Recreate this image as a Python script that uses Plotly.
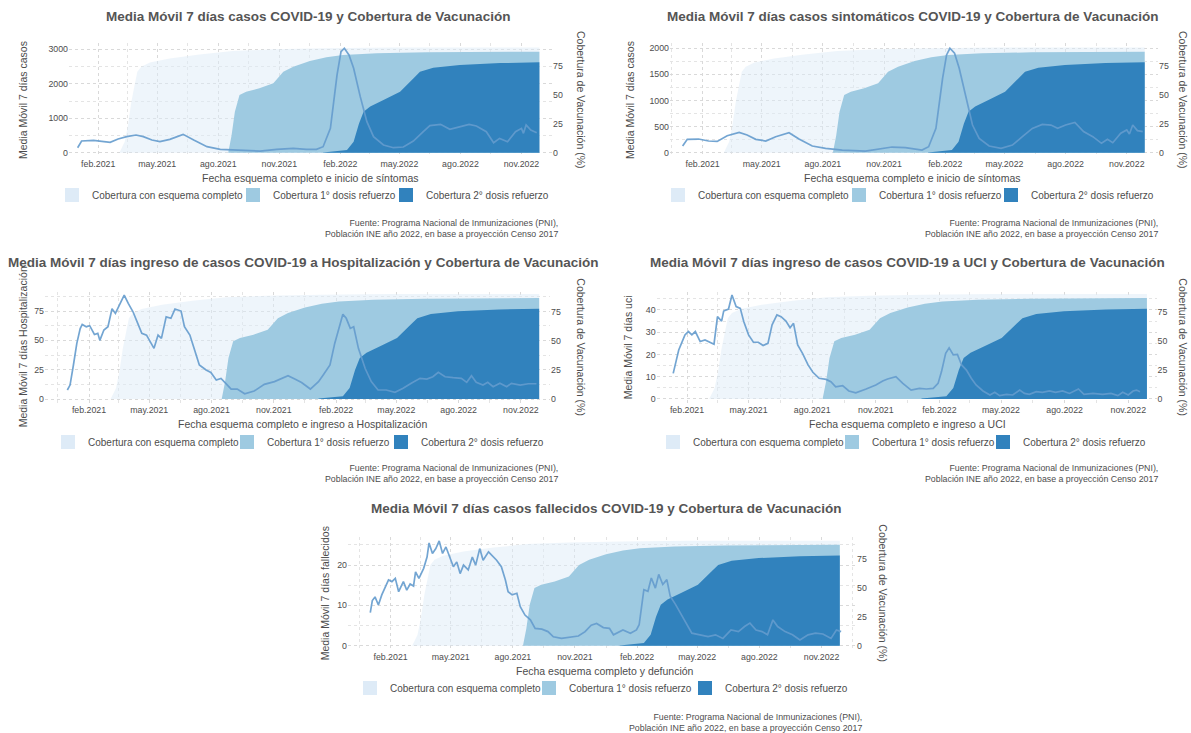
import plotly.graph_objects as go

# ---------------- DATA ----------------
casos_fecha = ["2021-01-01","2021-01-07","2021-01-25","2021-02-19","2021-03-03","2021-03-16","2021-03-30",
    "2021-04-10","2021-04-23","2021-05-05","2021-05-20","2021-06-09","2021-06-25","2021-07-15","2021-08-04",
    "2021-08-29","2021-10-03","2021-10-28","2021-11-22","2021-12-12","2021-12-27","2022-01-06","2022-01-17",
    "2022-01-27","2022-02-02","2022-02-07","2022-02-14","2022-02-21","2022-03-03","2022-03-13","2022-03-23",
    "2022-04-07","2022-04-22","2022-05-07","2022-05-22","2022-06-06","2022-06-16","2022-07-02","2022-07-16",
    "2022-08-01","2022-08-14","2022-08-25","2022-09-09","2022-09-20","2022-09-29","2022-10-11","2022-10-23",
    "2022-11-01","2022-11-04","2022-11-08","2022-11-15","2022-11-24"]
casos_mm7 = [145,339,358,300,397,465,513,465,368,319,387,532,368,174,97,
    68,48,97,126,97,97,174,707,2255,2933,3030,2836,2449,1626,900,465,
    223,145,165,339,610,784,823,677,755,823,774,610,290,416,319,610,706,561,803,658,581]

sinto_fecha = ["2021-01-02","2021-01-09","2021-01-26","2021-02-10","2021-02-23","2021-03-10","2021-03-28",
    "2021-04-09","2021-04-22","2021-05-07","2021-05-22","2021-06-11","2021-06-26","2021-07-16","2021-08-05",
    "2021-08-30","2021-10-04","2021-10-24","2021-11-13","2021-12-03","2021-12-28","2022-01-07","2022-01-18",
    "2022-01-28","2022-02-03","2022-02-08","2022-02-15","2022-02-22","2022-03-04","2022-03-14","2022-03-24",
    "2022-04-08","2022-04-26","2022-05-13","2022-05-28","2022-06-12","2022-06-27","2022-07-10","2022-07-20",
    "2022-08-01","2022-08-15","2022-08-28","2022-09-11","2022-09-24","2022-10-03","2022-10-11","2022-10-23",
    "2022-11-01","2022-11-05","2022-11-10","2022-11-17","2022-11-25"]
sinto_mm7 = [128,256,262,224,217,326,390,339,256,224,307,383,262,128,83,
    51,32,64,109,96,51,115,466,1425,1872,2000,1904,1617,1042,530,275,
    128,83,147,307,466,543,530,466,530,581,404,308,180,256,192,372,436,359,532,423,404]

hosp_fecha = ["2020-12-31","2021-01-04","2021-01-09","2021-01-14","2021-01-19","2021-01-22","2021-01-28",
    "2021-02-02","2021-02-09","2021-02-14","2021-02-17","2021-02-23","2021-03-01","2021-03-07","2021-03-12",
    "2021-03-18","2021-03-25","2021-03-31","2021-04-07","2021-04-14","2021-04-20","2021-04-27","2021-05-02",
    "2021-05-08","2021-05-14","2021-05-19","2021-05-26","2021-06-02","2021-06-08","2021-06-17","2021-06-22",
    "2021-06-30","2021-07-07","2021-07-14","2021-07-24","2021-07-31","2021-08-08","2021-08-15","2021-08-22",
    "2021-08-30","2021-09-08","2021-09-19","2021-10-03","2021-10-18","2021-11-02","2021-11-22","2021-12-02",
    "2021-12-12","2021-12-25","2022-01-06","2022-01-13","2022-01-23","2022-01-30","2022-02-06","2022-02-11",
    "2022-02-16","2022-02-22","2022-02-27","2022-03-06","2022-03-16","2022-03-25","2022-04-04","2022-04-16",
    "2022-04-29","2022-05-11","2022-05-23","2022-06-05","2022-06-15","2022-06-24","2022-07-02","2022-07-12",
    "2022-07-24","2022-08-05","2022-08-13","2022-08-20","2022-08-27","2022-09-06","2022-09-13","2022-09-21",
    "2022-10-01","2022-10-11","2022-10-18","2022-10-31","2022-11-12","2022-11-24"]
hosp_mm7 = [7.7,11.9,29,47.4,60,63.6,61.6,62.5,55,56,50,58.8,61.6,77,73,
    80,88.6,81.5,74.4,64.5,56,54.5,48.9,43.2,54.5,51.7,70,68.8,76.7,75,61.6,
    54.5,41.8,29,24.7,22.7,16.2,17.6,13.4,8.5,8.5,4.5,6.8,12.5,14.8,19.9,17,
    14,8.5,14.8,20.5,29,47.4,63,72.2,68.8,60.2,61.6,43.2,26,14.8,7.7,7.7,
    5.7,9.1,13.4,17.6,17,19,22.7,19,18.2,17.6,14.2,19.9,14.2,11.9,14.2,10.5,
    13.4,10.5,13.4,11.9,13,13]

uci_fecha = ["2021-01-12","2021-01-15","2021-01-20","2021-01-25","2021-01-29","2021-02-03","2021-02-08",
    "2021-02-13","2021-02-20","2021-02-27","2021-03-06","2021-03-12","2021-03-17","2021-03-23","2021-03-26",
    "2021-04-02","2021-04-07","2021-04-13","2021-04-19","2021-04-24","2021-05-01","2021-05-08","2021-05-15",
    "2021-05-22","2021-05-29","2021-06-04","2021-06-11","2021-06-17","2021-06-24","2021-06-30","2021-07-05",
    "2021-07-11","2021-07-18","2021-07-26","2021-08-02","2021-08-11","2021-08-21","2021-08-28","2021-09-04",
    "2021-09-14","2021-09-23","2021-10-03","2021-10-18","2021-11-01","2021-11-11","2021-11-18","2021-11-30",
    "2021-12-10","2021-12-22","2022-01-03","2022-01-13","2022-01-23","2022-01-30","2022-02-04","2022-02-10",
    "2022-02-15","2022-02-21","2022-02-27","2022-03-05","2022-03-12","2022-03-19","2022-03-26","2022-04-05",
    "2022-04-15","2022-04-22","2022-04-29","2022-05-09","2022-05-18","2022-05-28","2022-06-04","2022-06-11",
    "2022-06-21","2022-06-30","2022-07-10","2022-07-19","2022-07-29","2022-08-08","2022-08-21","2022-08-29",
    "2022-09-11","2022-09-25","2022-10-07","2022-10-17","2022-10-24","2022-11-01","2022-11-08","2022-11-13",
    "2022-11-18"]
uci_mm7 = [11.5,15.3,22,25.8,28.8,30.3,28.8,30.3,25.8,26.5,25.5,24.6,37,35,39.5,
    40.4,46.7,41.5,40.7,34.8,28.8,25.5,25.5,24,25,33.3,37.8,37,35,32,34,
    24.3,20.5,15.3,12,9.3,8.8,7.8,5.5,6,3.6,2.8,4.5,6.3,8.1,9,10,
    7,4,4.8,4.5,4.8,7,12.3,20.5,23,19.8,20,15.3,13,9.3,6.3,3.6,
    1.8,3,1.5,2.1,1.8,4,2.5,2.1,3.3,3,3.6,3,3.6,2.5,4.5,2.1,
    2.5,2.1,2.5,1.5,3,1.8,3.6,4,3.3]

fall_fecha = ["2021-01-02","2021-01-05","2021-01-09","2021-01-14","2021-01-19","2021-01-24","2021-01-29",
    "2021-02-03","2021-02-08","2021-02-13","2021-02-20","2021-02-25","2021-03-02","2021-03-07","2021-03-10",
    "2021-03-15","2021-03-22","2021-03-27","2021-03-30","2021-04-04","2021-04-09","2021-04-14","2021-04-19",
    "2021-04-24","2021-04-30","2021-05-05","2021-05-10","2021-05-15","2021-05-20","2021-05-27","2021-06-02",
    "2021-06-07","2021-06-13","2021-06-18","2021-06-26","2021-07-02","2021-07-08","2021-07-15","2021-07-21",
    "2021-07-25","2021-07-31","2021-08-07","2021-08-12","2021-08-19","2021-08-27","2021-09-03","2021-09-13",
    "2021-09-22","2021-09-30","2021-10-12","2021-10-24","2021-11-06","2021-11-16","2021-11-25","2021-12-03",
    "2021-12-13","2021-12-22","2021-12-28","2022-01-11","2022-01-22","2022-01-31","2022-02-04","2022-02-11",
    "2022-02-17","2022-02-22","2022-02-28","2022-03-05","2022-03-11","2022-03-17","2022-03-22","2022-03-30",
    "2022-04-07","2022-04-15","2022-04-23","2022-05-05","2022-05-17","2022-05-28","2022-06-08","2022-06-20",
    "2022-07-01","2022-07-10","2022-07-18","2022-07-27","2022-08-05","2022-08-13","2022-08-21","2022-08-28",
    "2022-09-08","2022-09-19","2022-09-30","2022-10-12","2022-10-23","2022-11-03","2022-11-15","2022-11-23",
    "2022-11-30"]
fall_mm7 = [8.2,11.2,12.1,10.1,12.6,14.6,16.3,15.9,16.7,13.4,15.9,13.8,15.3,14.8,18.3,
    16.7,19.2,22,25.5,22.9,24.1,26,22.9,24.5,21.7,19.6,20.8,17.9,20,18.8,22,
    20,24.1,21.2,23.3,22.2,21.2,19.6,16.3,13.4,12.6,13,9.7,7.6,6.4,4.3,4.1,
    3.5,2.2,1.8,2.1,2.4,3.5,5.1,5.5,4.5,4.3,2.7,3.9,3.1,3.9,5.2,13.9,
    13.5,16.8,14.3,17.7,15.2,16.4,12.3,10.2,7.7,5.6,3.1,2.7,2.25,2.7,1.8,3.9,
    3.5,4.75,5.6,3.9,3.5,2.7,6.4,4.75,3.5,2.7,1.4,2.7,3.1,2.9,1.8,3.9,
    3.5]

cob_completo_fecha = ["2021-03-05","2021-03-13","2021-03-18","2021-03-23","2021-03-28","2021-04-01","2021-04-07",
    "2021-04-20","2021-05-20","2021-07-04","2021-08-23","2021-10-23","2022-01-11","2022-04-22","2022-11-28"]
cob_completo_pct = [0,9.5,24,44,58.5,70,74.4,78,81.6,85,88,89.4,90.3,90.9,91]

cob_ref1_fecha = ["2021-08-16","2021-08-21","2021-08-26","2021-09-02","2021-09-12","2021-10-02","2021-10-23",
    "2021-11-07","2021-11-22","2021-12-17","2022-01-11","2022-02-05","2022-03-28","2022-06-11","2022-11-28"]
cob_ref1_pct = [0,15,35.5,50,52.8,55.7,60,70,74.4,79.3,82.5,84.5,86,86.8,87.4]

cob_ref2_fecha = ["2022-01-06","2022-02-11","2022-02-21","2022-03-01","2022-03-08","2022-03-18","2022-04-07",
    "2022-05-02","2022-05-22","2022-06-01","2022-06-21","2022-07-31","2022-09-30","2022-11-28"]
cob_ref2_pct = [0.3,2.3,9.5,25,35.5,40,45.6,52.8,64.3,70,73.6,75.9,77.5,78.2]

titulos = ["Media Móvil 7 días casos COVID-19 y Cobertura de Vacunación",
    "Media Móvil 7 días casos sintomáticos COVID-19 y Cobertura de Vacunación",
    "Media Móvil 7 días ingreso de casos COVID-19 a Hospitalización y Cobertura de Vacunación",
    "Media Móvil 7 días ingreso de casos COVID-19 a UCI y Cobertura de Vacunación",
    "Media Móvil 7 días casos fallecidos COVID-19 y Cobertura de Vacunación"]
titulos_eje_x = ["Fecha esquema completo e inicio de síntomas",
    "Fecha esquema completo e inicio de síntomas",
    "Fecha esquema completo e ingreso a Hospitalización",
    "Fecha esquema completo e ingreso a UCI",
    "Fecha esquema completo y defunción"]
titulos_eje_y = ["Media Móvil 7 días casos", "Media Móvil 7 días casos",
    "Media Móvil 7 días Hospitalización", "Media Móvil 7 días uci", "Media Móvil 7 días fallecidos"]
titulo_eje_y2 = "Cobertura de Vacunación (%)"
etiquetas_leyenda = ["Cobertura con esquema completo", "Cobertura 1° dosis refuerzo", "Cobertura 2° dosis refuerzo"]
fuente = "Fuente: Programa Nacional de Inmunizaciones (PNI),<br>Población INE año 2022, en base a proyección Censo 2017"

tick_fechas = ["2021-02-01","2021-05-01","2021-08-01","2021-11-01","2022-02-01","2022-05-01","2022-08-01","2022-11-01"]
tick_textos = ["feb.2021","may.2021","ago.2021","nov.2021","feb.2022","may.2022","ago.2022","nov.2022"]
minor_fechas = ["2020-12-17","2021-03-17","2021-06-16","2021-09-16","2021-12-17","2022-03-17","2022-06-16","2022-09-16","2022-12-17"]
yticks_izq = [[0,1000,2000,3000],[0,500,1000,1500,2000],[0,25,50,75],[0,10,20,30,40],[0,10,20]]
yminor_izq = [[500,1500,2500],[250,750,1250,1750],[12.5,37.5,62.5,87.5],[5,15,25,35,45],[5,15,25]]
yticks_der = [0,25,50,75]

series = [(casos_fecha, casos_mm7), (sinto_fecha, sinto_mm7), (hosp_fecha, hosp_mm7),
          (uci_fecha, uci_mm7), (fall_fecha, fall_mm7)]
coberturas = [(cob_completo_fecha, cob_completo_pct), (cob_ref1_fecha, cob_ref1_pct), (cob_ref2_fecha, cob_ref2_pct)]

# ---------------- STYLE / LAYOUT ----------------
W, H = 1191, 733
FONT = "Liberation Sans, Arial, sans-serif"
fill_plot = ["rgba(222,235,247,0.5)", "#9ecae1", "#3182bd"]
fill_key = ["#deebf7", "#9ecae1", "#3182bd"]
line_color = "rgba(100,155,205,0.9)"
grid_color = "#d9d9d9"

panels = [
    dict(dx=(69, 552), dy=(43, 157), xr=("2020-12-19", "2022-12-17"), yr=(-125, 3183), y2r=(-3.7, 94.9),
         t=(308, 17), xt=(310, 178), yt=23, y2t=581, lgy=195, keys=(69, 250, 403), cap=(560, 229)),
    dict(dx=(670, 1158), dy=(43, 157), xr=("2020-12-14", "2022-12-18"), yr=(-82, 2101), y2r=(-3.7, 94.9),
         t=(913, 17), xt=(913, 178), yt=630, y2t=1183, lgy=195, keys=(675, 856, 1008), cap=(1160, 229)),
    dict(dx=(45, 550), dy=(291.7, 403), xr=("2020-11-28", "2022-12-14"), yr=(-3.4, 91.5), y2r=(-3.5, 92.9),
         t=(303, 262), xt=(302, 424), yt=23, y2t=581, lgy=442, keys=(65, 244, 398), cap=(560, 473)),
    dict(dx=(656.6, 1156.6), dy=(291.7, 403), xr=("2020-12-19", "2022-12-12"), yr=(-1.8, 48.2), y2r=(-3.5, 92.9),
         t=(907.5, 262), xt=(907.5, 424), yt=628, y2t=1183, lgy=442, keys=(670, 849, 1000), cap=(1160, 473)),
    dict(dx=(348, 856), dy=(536.7, 650), xr=("2020-11-30", "2022-12-22"), yr=(-1.07, 27.05), y2r=(-3.7, 94.4),
         t=(605.8, 508), xt=(605, 671), yt=325, y2t=883, lgy=688, keys=(367, 546, 702), cap=(863.5, 722.5)),
]
KEY_OFFSET = 17  # px from legend box left edge to the reference key position

def fx(v):
    return v / W

def fy(v):
    return 1 - v / H

fig = go.Figure()
layout = dict(width=W, height=H, margin=dict(l=0, r=0, t=0, b=0),
              plot_bgcolor="white", paper_bgcolor="white",
              font=dict(family=FONT, color="#4d4d4d"), annotations=[], showlegend=True)

lg_count = 0
for k, p in enumerate(panels):
    xid = "x" if k == 0 else f"x{k+1}"
    ybase = "y" if k == 0 else f"y{2*k+1}"
    yover = f"y{2*k+2}"

    # coverage areas on base (right) axis
    for j, (fd, fv) in enumerate(coberturas):
        fig.add_trace(go.Scatter(x=fd, y=fv, mode="lines", fill="tozeroy", fillcolor=fill_plot[j],
                                 line=dict(width=0, color=fill_key[j]), showlegend=False,
                                 hoverinfo="skip", xaxis=xid, yaxis=ybase))
    # legend keys (one legend per key for ggplot-like spacing)
    for j in range(3):
        lg_count += 1
        lgid = "legend" if lg_count == 1 else f"legend{lg_count}"
        fig.add_trace(go.Scatter(x=[None], y=[None], mode="markers", name=etiquetas_leyenda[j],
                                 marker=dict(symbol="square", size=14, color=fill_key[j], line=dict(width=0)),
                                 legend=lgid, xaxis=xid, yaxis=ybase))
        layout[lgid] = dict(orientation="h", x=fx(p["keys"][j] - KEY_OFFSET), y=fy(p["lgy"]),
                            xanchor="left", yanchor="middle", font=dict(size=10, color="#4d4d4d"),
                            bgcolor="rgba(0,0,0,0)", itemsizing="trace", itemwidth=30)
    # moving average line on overlay (left) axis
    sd, sv = series[k]
    fig.add_trace(go.Scatter(x=sd, y=sv, mode="lines", line=dict(color=line_color, width=1.7),
                             showlegend=False, xaxis=xid, yaxis=yover))

    xkey = "xaxis" if k == 0 else f"xaxis{k+1}"
    bkey = "yaxis" if k == 0 else f"yaxis{2*k+1}"
    okey = f"yaxis{2*k+2}"
    layout[xkey] = dict(domain=[fx(p["dx"][0]), fx(p["dx"][1])], anchor=ybase, type="date",
                        range=list(p["xr"]), tickmode="array", tickvals=tick_fechas, ticktext=tick_textos,
                        showgrid=True, gridcolor=grid_color, griddash="dot", gridwidth=1,
                        minor=dict(tickmode="array", tickvals=minor_fechas, showgrid=True,
                                   gridcolor="#e4e4e4", griddash="dot", gridwidth=1),
                        zeroline=False, showline=False, ticks="",
                        tickfont=dict(size=8.8, color="#4d4d4d"))
    layout[bkey] = dict(domain=[fy(p["dy"][1]), fy(p["dy"][0])], anchor=xid, side="right",
                        range=list(p["y2r"]), tickmode="array", tickvals=yticks_der,
                        showgrid=False, zeroline=False, showline=False, ticks="",
                        tickfont=dict(size=8.8, color="#4d4d4d"))
    layout[okey] = dict(overlaying=ybase, anchor=xid, side="left",
                        range=list(p["yr"]), tickmode="array", tickvals=yticks_izq[k],
                        showgrid=True, gridcolor=grid_color, griddash="dot", gridwidth=1,
                        minor=dict(tickmode="array", tickvals=yminor_izq[k], showgrid=True,
                                   gridcolor="#e4e4e4", griddash="dot", gridwidth=1),
                        zeroline=False, showline=False, ticks="",
                        tickfont=dict(size=8.8, color="#4d4d4d"))

    cy = (p["dy"][0] + p["dy"][1]) / 2
    layout["annotations"] += [
        dict(text=f"<b>{titulos[k]}</b>", x=fx(p["t"][0]), y=fy(p["t"][1]), xref="paper", yref="paper",
             xanchor="center", yanchor="middle", showarrow=False, font=dict(size=13.5, color="#555555")),
        dict(text=titulos_eje_x[k], x=fx(p["xt"][0]), y=fy(p["xt"][1]), xref="paper", yref="paper",
             xanchor="center", yanchor="middle", showarrow=False, font=dict(size=10.5, color="#4d4d4d")),
        dict(text=titulos_eje_y[k], x=fx(p["yt"]), y=fy(cy), xref="paper", yref="paper",
             xanchor="center", yanchor="middle", textangle=-90, showarrow=False,
             font=dict(size=10.5, color="#4d4d4d")),
        dict(text=titulo_eje_y2, x=fx(p["y2t"]), y=fy(cy), xref="paper", yref="paper",
             xanchor="center", yanchor="middle", textangle=90, showarrow=False,
             font=dict(size=10.5, color="#4d4d4d")),
        dict(text=fuente, x=fx(p["cap"][0]), y=fy(p["cap"][1]), xref="paper", yref="paper",
             xanchor="right", yanchor="middle", align="right", showarrow=False,
             font=dict(size=8.8, color="#4d4d4d")),
    ]

fig.update_layout(**layout)
fig.write_html("out.html", config={"displayModeBar": False},
               post_script="document.body.style.margin='0px';document.body.style.overflow='hidden';")
